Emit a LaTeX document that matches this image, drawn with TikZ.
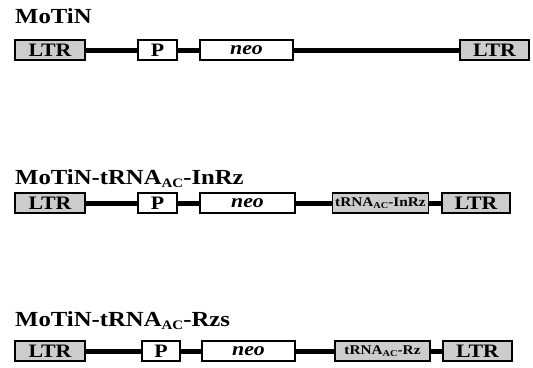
\documentclass[tikz,border=0pt]{standalone}
\usepackage{fontspec}
\setmainfont{Liberation Serif}[FakeStretch=1.15]
\newcommand{\subac}[2]{\raisebox{-#2}{\fontsize{#1}{#1}\selectfont AC}}
\tikzset{
  gbox/.style={draw, line width=1.3pt, minimum height=20pt, inner sep=0pt, fill=white,
    font=\bfseries\fontsize{19}{19}\selectfont},
  shaded/.style={gbox, fill=black!20},
  small/.style={font=\bfseries\fontsize{13.3}{13.3}\selectfont},
  link/.style={line width=5pt},
  ttl/.style={anchor=base west, inner sep=0pt, font=\bfseries\fontsize{21.5}{21.5}\selectfont}
}
\begin{document}
\begin{tikzpicture}[x=1pt,y=-1pt]
\useasboundingbox (0,0) rectangle (533,367);
% row 1
\node[ttl] (t1) at (15,23) {MoTiN};
\node[shaded, minimum width=70pt] (a1) at (50,50) {LTR};
\node[gbox, minimum width=39pt] (p1) at (157.5,50) {P};
\node[gbox, minimum width=93pt] (n1) at (246.5,50) {\itshape neo};
\node[shaded, minimum width=69pt] (b1) at (494.5,50) {LTR};
\draw[link] (a1.east) -- (p1.west);
\draw[link] (p1.east) -- (n1.west);
\draw[link] (n1.east) -- (b1.west);
% row 2
\node[ttl] (t2) at (15,184) {MoTiN-tRNA\subac{13}{3pt}-InRz};
\node[shaded, minimum width=70pt] (a2) at (50,203) {LTR};
\node[gbox, minimum width=39pt] (p2) at (157.5,203) {P};
\node[gbox, minimum width=95pt] (n2) at (247.5,203) {\itshape neo};
\node[shaded, small, minimum width=96pt] (r2) at (380.5,203) {tRNA\subac{9}{2pt}-InRz};
\node[shaded, minimum width=68pt] (b2) at (476,203) {LTR};
\draw[link] (a2.east) -- (p2.west);
\draw[link] (p2.east) -- (n2.west);
\draw[link] (n2.east) -- (r2.west);
\draw[link] (r2.east) -- (b2.west);
% row 3
\node[ttl] (t3) at (15,326) {MoTiN-tRNA\subac{13}{3pt}-Rzs};
\node[shaded, minimum width=70pt] (a3) at (50,351) {LTR};
\node[gbox, minimum width=38pt] (p3) at (161,351) {P};
\node[gbox, minimum width=93pt] (n3) at (248.5,351) {\itshape neo};
\node[shaded, small, minimum width=95pt] (r3) at (382.5,351) {tRNA\subac{9}{2pt}-Rz};
\node[shaded, minimum width=69pt] (b3) at (477.5,351) {LTR};
\draw[link] (a3.east) -- (p3.west);
\draw[link] (p3.east) -- (n3.west);
\draw[link] (n3.east) -- (r3.west);
\draw[link] (r3.east) -- (b3.west);
\end{tikzpicture}
\end{document}
